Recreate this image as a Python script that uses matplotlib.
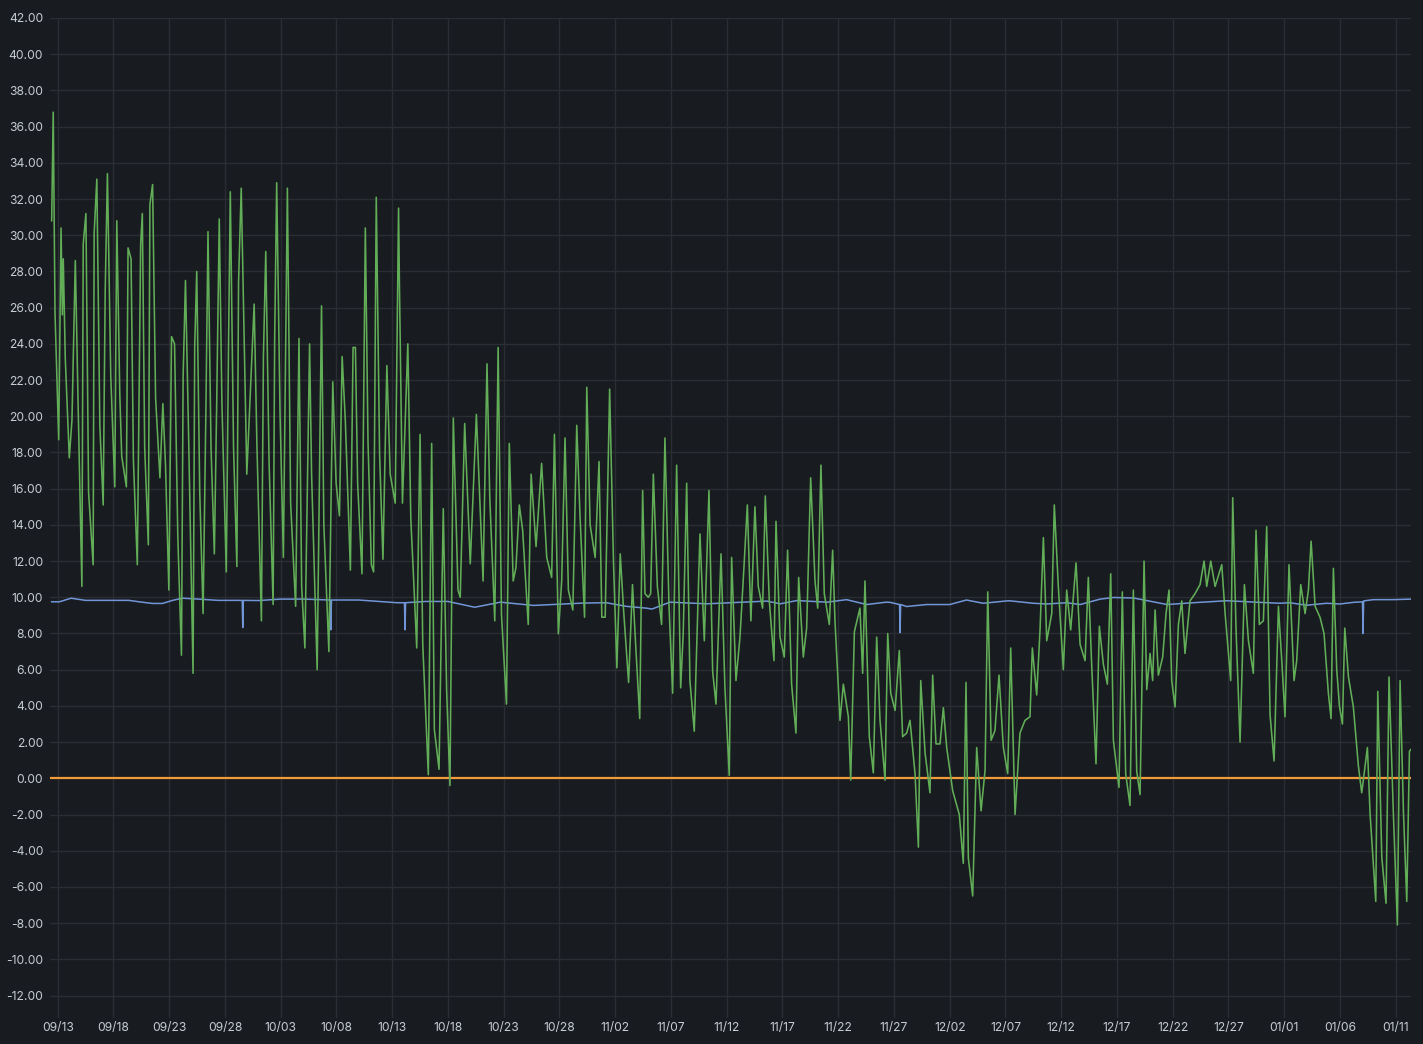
import numpy as np
import pandas as pd
import matplotlib
matplotlib.use('Agg')
import matplotlib.pyplot as plt
import matplotlib.dates as mdates

# Time axis: days counted from 09/13 00:00
start = pd.Timestamp('2023-09-13')

# Green series (temperature)
green_days = [
    -0.54, -0.4, -0.24, 0.09, 0.3, 0.42, 0.5, 0.68, 1.04, 1.28, 1.58, 1.82, 2.17, 2.29, 2.53, 2.77,
    3.18, 3.27, 3.51, 3.78, 4.08, 4.26, 4.46, 4.76, 5.12, 5.3, 5.57, 5.74, 6.16, 6.31, 6.58, 6.79,
    7.14, 7.44, 7.59, 7.8, 8.13, 8.27, 8.51, 8.78, 9.17, 9.43, 9.67, 9.97, 10.21, 10.48, 10.77, 11.1,
    11.25, 11.46, 11.76, 12.14, 12.29, 12.47, 12.74, 13.04, 13.3, 13.48, 13.75, 14.05, 14.26, 14.49,
    14.73, 15.12, 15.33, 15.48, 15.77, 16.07, 16.22, 16.46, 16.96, 17.62, 17.86, 18.27, 18.45, 18.66,
    18.96, 19.32, 19.46, 19.64, 19.94, 20.24, 20.45, 20.6, 20.89, 21.34, 21.64, 21.88, 22.17, 22.59,
    22.77, 23.27, 23.66, 23.87, 24.32, 24.67, 24.97, 25.27, 25.51, 25.8, 26.25, 26.49, 26.7, 26.9,
    27.29, 27.59, 27.83, 28.13, 28.33, 28.57, 28.87, 29.17, 29.52, 29.82, 30.27, 30.57, 30.65, 30.92,
    31.22, 31.4, 31.67, 31.9, 32.2, 32.5, 32.74, 33.24, 33.54, 33.78, 34.2, 34.58, 34.88, 35.18,
    35.48, 35.9, 36.1, 36.5, 37.0, 37.55, 38.15, 38.5, 38.75, 39.2, 39.5, 39.8, 40.25, 40.5, 40.85,
    41.1, 41.4, 41.7, 42.2, 42.46, 42.9, 43.4, 43.86, 44.3, 44.55, 44.9, 45.2, 45.5, 45.8, 46.2,
    46.55, 46.85, 47.25, 47.45, 47.75, 48.2, 48.55, 48.8, 49.1, 49.5, 49.85, 50.15, 50.45, 50.75,
    51.2, 51.55, 51.85, 52.2, 52.46, 52.67, 52.97, 53.18, 53.42, 53.78, 54.16, 54.46, 54.82, 55.15,
    55.51, 55.87, 56.1, 56.41, 56.7, 57.09, 57.6, 57.99, 58.41, 58.74, 59.04, 59.49, 59.84, 60.23,
    60.44, 60.83, 61.19, 61.55, 61.85, 62.17, 62.53, 62.83, 63.22, 63.46, 63.82, 64.24, 64.42, 64.78,
    65.16, 65.46, 65.82, 66.21, 66.45, 66.87, 67.17, 67.53, 67.92, 68.16, 68.45, 68.75, 69.2, 69.5,
    69.71, 70.16, 70.46, 70.91, 71.12, 71.45, 71.95, 72.19, 72.4, 72.79, 73.15, 73.45, 73.75, 74.2,
    74.44, 74.71, 75.1, 75.48, 75.78, 76.14, 76.44, 76.89, 77.19, 77.4, 77.79, 78.23, 78.47, 78.77,
    79.13, 79.43, 79.73, 80.27, 80.86, 81.22, 81.46, 81.67, 82.06, 82.42, 82.81, 83.17, 83.41, 83.71,
    84.06, 84.42, 84.81, 85.2, 85.47, 85.86, 86.3, 86.75, 87.2, 87.41, 87.8, 88.1, 88.4, 88.7, 89.15,
    89.38, 89.74, 90.19, 90.49, 90.85, 91.33, 91.69, 92.14, 92.43, 92.73, 93.12, 93.42, 93.78, 94.14,
    94.44, 94.68, 95.18, 95.48, 95.78, 96.17, 96.47, 96.77, 97.07, 97.43, 97.67, 97.97, 98.2, 98.42,
    98.71, 99.1, 99.4, 99.67, 99.91, 100.21, 100.51, 100.81, 101.1, 101.55, 102.0, 102.45, 102.81,
    103.05, 103.41, 103.8, 104.4, 104.7, 105.2, 105.38, 105.68, 106.04, 106.43, 106.79, 107.23,
    107.47, 107.77, 108.13, 108.43, 108.73, 109.09, 109.48, 109.78, 110.07, 110.43, 110.88, 111.12,
    111.48, 111.87, 112.17, 112.41, 112.77, 113.21, 113.57, 113.96, 114.2, 114.41, 114.71, 114.95,
    115.22, 115.43, 115.76, 116.2, 116.65, 116.95, 117.46, 117.7, 118.21, 118.39, 118.75, 119.13,
    119.4, 119.79, 120.15, 120.39, 120.69, 120.99, 121.23, 121.37,
]
green_temp = [
    30.8, 36.8, 25.7, 18.7, 30.4, 25.6, 28.7, 23.2, 17.7, 19.8, 28.6, 21.0, 10.6, 29.5, 31.2, 15.8,
    11.8, 30.1, 33.1, 19.5, 15.1, 26.9, 33.4, 22.2, 16.1, 30.8, 21.2, 17.8, 16.1, 29.3, 28.7, 17.6,
    11.8, 29.5, 31.2, 18.3, 12.9, 31.7, 32.8, 21.0, 16.6, 20.7, 17.3, 10.4, 24.4, 24.0, 13.4, 6.8,
    22.2, 27.5, 18.3, 5.8, 23.9, 28.0, 15.8, 9.1, 20.7, 30.2, 18.3, 12.4, 20.7, 30.9,
    20.7, 11.4, 24.4, 32.4, 18.3, 11.7, 27.4, 32.6, 16.8, 26.2, 18.6, 8.7, 23.3, 29.1,
    17.4, 9.6, 24.3, 32.9, 20.2, 12.2, 23.8, 32.6, 15.2, 9.5, 24.3, 10.6, 7.2, 24.0,
    16.8, 6.0, 26.1, 14.0, 7.0, 21.9, 16.3, 14.5, 23.3, 19.7, 11.5, 23.8, 23.8, 16.3,
    11.3, 30.4, 18.6, 11.8, 11.4, 32.1, 17.9, 12.1, 22.8, 16.8, 15.2, 31.5, 27.2, 15.2,
    20.8, 24.0, 14.3, 11.3, 7.2, 19.0, 7.4, 0.2, 18.5, 2.7, 0.5, 14.9, 4.9, -0.4,
    19.9, 10.4, 10.0, 19.6, 11.85, 20.1, 10.9, 22.9, 15.5, 8.7, 23.8, 9.05, 4.1, 18.5, 10.9,
    11.65, 15.1, 13.7, 8.5, 16.8, 12.8, 17.4, 12.2, 11.1, 19.0, 7.98, 10.9, 18.8, 10.4, 9.3,
    19.5, 14.4, 8.9, 21.6, 14.0, 12.2, 17.5, 8.9, 8.9, 21.5, 11.85, 6.1, 12.4, 9.3,
    5.3, 10.7, 7.2, 3.3, 15.9, 10.2, 10.0, 10.2, 16.8, 10.6, 8.5, 18.8, 9.6, 4.7,
    17.3, 5.0, 8.0, 16.3, 5.4, 2.6, 13.5, 7.6, 15.9, 5.9, 4.1, 12.4, 5.0, 0.16,
    12.2, 5.4, 7.8, 11.7, 15.1, 8.7, 15.0, 10.6, 9.4, 15.6, 9.8, 6.5, 14.2, 7.8,
    6.7, 12.6, 5.2, 2.5, 11.1, 6.7, 8.3, 16.6, 10.9, 9.4, 17.3, 10.2, 8.5, 12.6,
    8.7, 3.2, 5.2, 3.4, -0.1, 8.1, 9.4, 5.8, 10.9, 2.3, 0.3, 7.8, 3.2, -0.1,
    8.0, 4.7, 3.75, 7.06, 2.3, 2.5, 3.2, 0.26, -3.8, 5.4, 1.4, -0.8, 5.7, 1.9,
    1.9, 3.9, 1.7, -0.7, -2.0, -4.7, 5.3, -4.4, -6.5, 1.7, -1.8, 0.44, 10.3, 2.1,
    2.65, 5.7, 1.7, 0.26, 7.2, -2.0, 2.5, 3.2, 3.4, 7.2, 4.6, 8.2, 13.3, 7.6, 9.1,
    15.1, 10.6, 6.0, 10.4, 8.2, 11.9, 7.4, 6.5, 11.1, 6.3, 0.8, 8.4, 6.3, 5.2,
    11.3, 2.1, -0.5, 10.3, 0.26, -1.5, 10.4, 0.4, -0.9, 12.0, 4.9, 6.9, 5.4, 9.3,
    5.7, 6.7, 9.1, 10.4, 5.4, 3.94, 8.5, 9.8, 6.9, 9.8, 10.2, 10.7, 12.0,
    10.6, 12.0, 10.6, 11.8, 9.1, 5.4, 15.5, 8.2, 2.0, 10.7, 7.6, 5.8,
    13.7, 8.5, 8.7, 13.9, 3.5, 0.96, 9.5, 6.5, 3.4, 11.8, 5.4, 6.5,
    10.7, 9.1, 10.4, 13.1, 9.5, 8.9, 8.0, 4.7, 3.3, 11.6, 6.0, 4.0,
    3.0, 8.3, 5.6, 3.94, 0.7, -0.8, 1.7, -1.95, -6.8, 4.8, -4.35, -6.9,
    5.6, -1.95, -8.1, 5.4, -1.8, -6.8, 1.5, 1.6,
]

# Blue series, nearly flat around 9.8 with a few short drops
blue_days = [
    -0.54, 0.15, 1.2, 2.5, 4.6, 6.4, 7.3, 8.5, 9.4, 10.3, 11.2, 12.6, 14.4, 16.55, 16.6, 16.65,
    18.0, 20.0, 22.0, 24.45, 24.5, 24.55, 27.0, 30.4, 31.1, 31.15, 31.2, 33.0, 35.0, 37.4, 39.7,
    42.66, 47.1, 49.2, 51.0, 52.8, 53.3, 54.9, 58.2, 63.6, 64.8, 66.3, 69.0, 70.75, 72.55, 74.3,
    74.65, 75.5, 75.55, 75.6, 76.14, 77.9, 80.0, 81.5, 83.0, 85.3, 87.5, 88.7, 90.5, 91.7, 93.5,
    94.7, 96.5, 98.0, 99.5, 101.85, 104.85, 107.8, 109.6, 110.5, 112.0, 113.8, 115.0, 116.2,
    117.02, 117.07, 117.12, 118.0, 119.8, 121.37,
]
blue_vals = [
    9.75, 9.75, 9.95, 9.83, 9.83, 9.83, 9.75, 9.66, 9.66, 9.83, 9.95, 9.9, 9.83, 9.83, 8.33, 9.83,
    9.82, 9.9, 9.9, 9.85, 8.2, 9.85, 9.85, 9.7, 9.7, 8.2, 9.7, 9.77, 9.77, 9.45, 9.73,
    9.55, 9.68, 9.7, 9.5, 9.4, 9.35, 9.73, 9.64, 9.79, 9.64, 9.82, 9.73, 9.87, 9.6, 9.73,
    9.72, 9.6, 8.05, 9.6, 9.49, 9.6, 9.6, 9.85, 9.67, 9.81, 9.67, 9.63, 9.7, 9.6, 9.9,
    9.99, 9.96, 9.78, 9.6, 9.7, 9.81, 9.72, 9.67, 9.7, 9.56, 9.67, 9.63, 9.72,
    9.75, 8.0, 9.8, 9.87, 9.87, 9.9,
]

# Orange threshold line
threshold = 0.0

# Axis ticks
y_ticks = list(range(-12, 43, 2))
x_ticks = pd.date_range(start, periods=25, freq='5D')

bg = '#181b1f'
grid_c = '#2a2d33'
text_c = '#c7cbd4'

fig = plt.figure(figsize=(14.23, 10.44), dpi=100, facecolor=bg)
ax = fig.add_axes([50 / 1423, 26 / 1044, 1361 / 1423, 1000 / 1044], facecolor=bg)

green_t = start + pd.to_timedelta(green_days, unit='D')
blue_t = start + pd.to_timedelta(blue_days, unit='D')

ax.axhline(threshold, color='#f29b38', lw=1.6, zorder=2)
ax.plot(blue_t, blue_vals, color='#7196d8', lw=1.1, zorder=3)
ax.plot(green_t, green_temp, color='#62ad58', lw=1.15, zorder=4)

ax.set_ylim(-13.24, 42.0)
ax.set_xlim(start + pd.to_timedelta(-0.69, unit='D'), start + pd.to_timedelta(121.37, unit='D'))

ax.set_yticks(y_ticks)
ax.set_yticklabels([f'{v:.2f}' for v in y_ticks])
ax.set_xticks(x_ticks)
ax.xaxis.set_major_formatter(mdates.DateFormatter('%m/%d'))

ax.grid(True, color=grid_c, lw=1)
ax.set_axisbelow(True)
for s in ax.spines.values():
    s.set_visible(False)

ax.tick_params(axis='both', length=0, colors=text_c, labelsize=8.7)
ax.tick_params(axis='y', pad=5)
ax.tick_params(axis='x', pad=3)
for lbl in ax.get_xticklabels() + ax.get_yticklabels():
    lbl.set_family(['Inter', 'DejaVu Sans'])

fig.savefig('out.png', dpi=100, facecolor=bg)
